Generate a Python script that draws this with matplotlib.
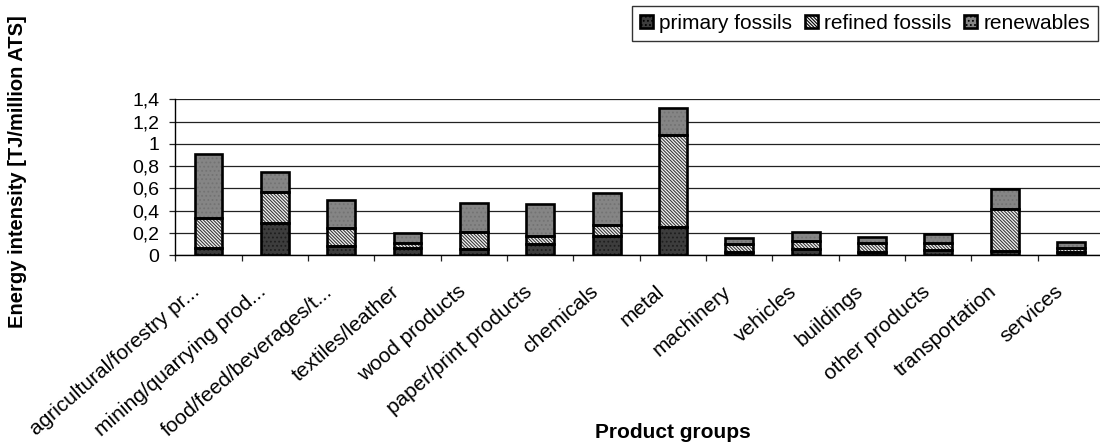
import matplotlib
matplotlib.use("Agg")
import matplotlib.pyplot as plt
from matplotlib.patches import Patch
from matplotlib.transforms import ScaledTranslation
import numpy as np

plt.rcParams["font.family"] = ["Liberation Sans", "DejaVu Sans"]
plt.rcParams["hatch.linewidth"] = 0.8

# Energy intensity by product group [TJ / million ATS]
categories = [
    "agricultural/forestry pr...",
    "mining/quarrying prod...",
    "food/feed/beverages/t...",
    "textiles/leather",
    "wood products",
    "paper/print products",
    "chemicals",
    "metal",
    "machinery",
    "vehicles",
    "buildings",
    "other products",
    "transportation",
    "services",
]
primary_fossils = [0.06, 0.29, 0.08, 0.06, 0.05, 0.10, 0.17, 0.25, 0.03, 0.05, 0.025, 0.045, 0.04, 0.03]
refined_fossils = [0.27, 0.28, 0.165, 0.05, 0.155, 0.075, 0.10, 0.83, 0.07, 0.08, 0.08, 0.065, 0.37, 0.035]
renewables = [0.575, 0.175, 0.25, 0.085, 0.265, 0.285, 0.29, 0.245, 0.055, 0.075, 0.055, 0.08, 0.18, 0.05]

series_names = ["primary fossils", "refined fossils", "renewables"]
y_ticks = [0, 0.2, 0.4, 0.6, 0.8, 1.0, 1.2, 1.4]
y_tick_labels = ["0", "0,2", "0,4", "0,6", "0,8", "1", "1,2", "1,4"]

# fill styles: (face colour, hatch, hatch colour)
styles = [
    ("#3d3d3d", "....", "#1e1e1e"),
    ("#f4f4f4", "\\" * 10, "#3a3a3a"),
    ("#858585", "....", "#737373"),
]

W, H = 1100, 448
fig = plt.figure(figsize=(W / 100, H / 100), dpi=100)
ax = fig.add_axes([175.3 / W, 1 - 255 / H, 928.9 / W, 155.7 / H])

x = np.arange(len(categories))
bar_w = 0.42
bottom = np.zeros(len(categories))
for vals, (fc, hatch, hc) in zip([primary_fossils, refined_fossils, renewables], styles):
    vals = np.asarray(vals)
    ax.bar(x, vals, bar_w, bottom=bottom, color=fc, hatch=hatch,
           edgecolor=hc, linewidth=0, zorder=3)
    ax.bar(x, vals, bar_w, bottom=bottom, fill=False,
           edgecolor="black", linewidth=1.9, zorder=4)
    bottom += vals

ax.set_xlim(-0.5, len(categories) - 0.5)
ax.set_ylim(0, 1.4)

# horizontal gridlines
ax.set_yticks(y_ticks, y_tick_labels)
ax.yaxis.grid(True, color="#222222", linewidth=0.9, zorder=0)
ax.set_axisbelow(True)
ax.tick_params(axis="y", direction="out", length=4.3, width=0.9,
               pad=7, labelsize=14, color="#222222")

# category labels centred under bars, boundary tick marks as minor ticks
ax.set_xticks(x, categories, rotation=41, ha="right", va="center",
              rotation_mode="anchor", fontsize=15)
ax.set_xticks(np.arange(len(categories) + 1) - 0.5, minor=True)
ax.tick_params(axis="x", which="major", length=0, pad=24.5)
ax.tick_params(axis="x", which="minor", direction="out", length=4.3,
               width=0.9, color="#222222")
shift = ScaledTranslation(-11 / 100, 0, fig.dpi_scale_trans)
for lbl in ax.get_xticklabels():
    lbl.set_transform(lbl.get_transform() + shift)

for side in ("top", "right"):
    ax.spines[side].set_visible(False)
for side in ("left", "bottom"):
    ax.spines[side].set_color("black")
    ax.spines[side].set_linewidth(1.0)

fig.text(18 / W, 1 - 172 / H, "Energy intensity [TJ/million ATS]",
         rotation=90, ha="center", va="center", fontsize=14.5, fontweight="bold")
fig.text(673 / W, 1 - 432 / H, "Product groups",
         ha="center", va="center", fontsize=15, fontweight="bold")

handles = [Patch(facecolor=fc, hatch=hatch, edgecolor="black", linewidth=1.9)
           for fc, hatch, hc in styles]
leg = fig.legend(handles, series_names, loc="upper left",
                 bbox_to_anchor=(632 / W, 1 - 6 / H), ncol=3, fontsize=15,
                 frameon=True, fancybox=False, edgecolor="black",
                 handlelength=0.62, handleheight=0.62, handletextpad=0.3,
                 columnspacing=0.62, borderpad=0.38, borderaxespad=0)
leg.get_frame().set_linewidth(1.0)

fig.savefig("out.png", dpi=100)
